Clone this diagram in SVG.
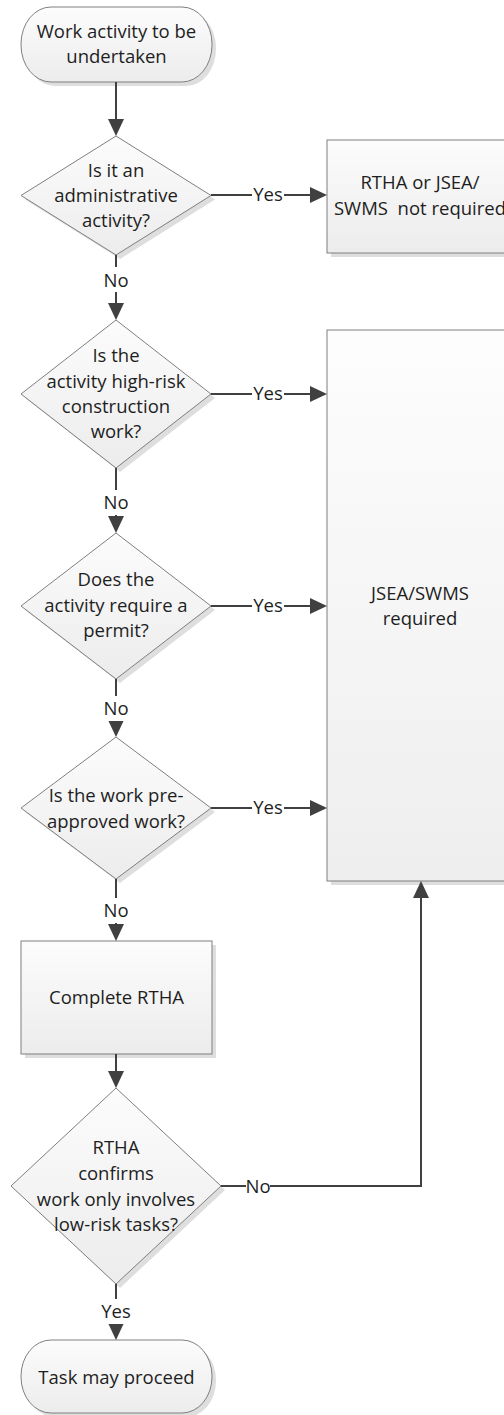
<svg xmlns="http://www.w3.org/2000/svg" width="504" height="1415" viewBox="0 0 504 1415">
<style>
.shape{stroke:#7f7f7f;stroke-width:1;fill:url(#g)}
.big{stroke:#7f7f7f;stroke-width:1;fill:url(#gb)}
.shadow{fill:#dedede;stroke:none}
.t{font-family:"Open Sans","Liberation Sans",sans-serif;font-size:18.5px;fill:#1e1e1e;text-anchor:middle}
.c{stroke:#404040;stroke-width:2;fill:none}
.a{marker-end:url(#arr)}
.lb{fill:#ffffff;stroke:none}
</style>
<defs>
<linearGradient id="g" x1="0" y1="0" x2="0" y2="1">
<stop offset="0" stop-color="#fcfcfc"/>
<stop offset="1" stop-color="#ececec"/>
</linearGradient>
<linearGradient id="gb" x1="0" y1="0" x2="0" y2="1">
<stop offset="0" stop-color="#fdfdfd"/>
<stop offset="1" stop-color="#eeeeee"/>
</linearGradient>
<marker id="arr" markerUnits="userSpaceOnUse" markerWidth="18" markerHeight="16" refX="11" refY="8" orient="auto">
<path d="M0,0 L17,8 L0,16 Z" fill="#404040"/>
</marker>
</defs>
<rect width="504" height="1415" fill="#ffffff"/>

<g id="start">
<rect class="shadow" x="25" y="11" width="191" height="75" rx="30" ry="37"/>
<rect class="shape" x="21" y="7" width="191" height="75" rx="30" ry="37"/>
<text class="t" x="116.5" y="38">Work activity to be</text>
<text class="t" x="116.5" y="63">undertaken</text>
</g>

<g id="d1">
<polygon class="shadow" points="120,140 215,199.5 120,259 25,199.5"/>
<polygon class="shape" points="116,136 211,195.5 116,255 21,195.5"/>
<text class="t" x="116" y="177">Is it an</text>
<text class="t" x="116" y="202">administrative</text>
<text class="t" x="116" y="227">activity?</text>
</g>

<g id="notrequired">
<rect class="shadow" x="331" y="144" width="187" height="113"/>
<rect class="shape" x="327" y="140" width="187" height="113"/>
<text class="t" x="420" y="189">RTHA or JSEA/</text>
<text class="t" x="420" y="215" xml:space="preserve">SWMS  not required</text>
</g>

<g id="d2">
<polygon class="shadow" points="120,324 215,398 120,472 25,398"/>
<polygon class="shape" points="116,320 211,394 116,468 21,394"/>
<text class="t" x="116" y="362">Is the</text>
<text class="t" x="116" y="387.5">activity high-risk</text>
<text class="t" x="116" y="413">construction</text>
<text class="t" x="116" y="438">work?</text>
</g>

<g id="required">
<rect class="shadow" x="331" y="334" width="187" height="551"/>
<rect class="big" x="327" y="330" width="187" height="551"/>
<text class="t" x="420" y="599.5">JSEA/SWMS</text>
<text class="t" x="420" y="624.5">required</text>
</g>

<g id="d3">
<polygon class="shadow" points="120,537 215,610 120,683 25,610"/>
<polygon class="shape" points="116,533 211,606 116,679 21,606"/>
<text class="t" x="116" y="586">Does the</text>
<text class="t" x="116" y="611.5">activity require a</text>
<text class="t" x="116" y="637">permit?</text>
</g>

<g id="d4">
<polygon class="shadow" points="120,741 215,812 120,883 25,812"/>
<polygon class="shape" points="116,737 211,808 116,879 21,808"/>
<text class="t" x="116" y="802">Is the work pre-</text>
<text class="t" x="116" y="828">approved work?</text>
</g>

<g id="complete">
<rect class="shadow" x="25" y="945" width="191" height="113"/>
<rect class="shape" x="21" y="941" width="191" height="113"/>
<text class="t" x="116.5" y="1004">Complete RTHA</text>
</g>

<g id="d5">
<polygon class="shadow" points="120,1092 225,1190 120,1288 15,1190"/>
<polygon class="shape" points="116,1088 221,1186 116,1284 11,1186"/>
<text class="t" x="116" y="1154">RTHA</text>
<text class="t" x="116" y="1180">confirms</text>
<text class="t" x="116" y="1205.5">work only involves</text>
<text class="t" x="116" y="1231">low-risk tasks?</text>
</g>

<g id="end">
<rect class="shadow" x="25" y="1344" width="191" height="73" rx="30" ry="36"/>
<rect class="shape" x="21" y="1340" width="191" height="73" rx="30" ry="36"/>
<text class="t" x="116.5" y="1384">Task may proceed</text>
</g>

<g id="connectors">
<line class="c a" x1="116" y1="82" x2="116" y2="130"/>
<line class="c a" x1="211" y1="195" x2="321" y2="195"/>
<line class="c a" x1="116" y1="255" x2="116" y2="314"/>
<line class="c a" x1="211" y1="394" x2="321" y2="394"/>
<line class="c a" x1="116" y1="468" x2="116" y2="527"/>
<line class="c a" x1="211" y1="606" x2="321" y2="606"/>
<line class="c a" x1="116" y1="679" x2="116" y2="731"/>
<line class="c a" x1="211" y1="808" x2="321" y2="808"/>
<line class="c a" x1="116" y1="879" x2="116" y2="935"/>
<line class="c a" x1="116" y1="1054" x2="116" y2="1082"/>
<polyline class="c a" points="221,1186 421,1186 421,887"/>
<line class="c a" x1="116" y1="1284" x2="116" y2="1334"/>

<rect class="lb" x="252" y="185" width="32" height="20"/>
<text class="t" x="268" y="201">Yes</text>
<rect class="lb" x="252" y="384" width="32" height="20"/>
<text class="t" x="268" y="400">Yes</text>
<rect class="lb" x="252" y="596" width="32" height="20"/>
<text class="t" x="268" y="612">Yes</text>
<rect class="lb" x="252" y="798" width="32" height="20"/>
<text class="t" x="268" y="814">Yes</text>

<rect class="lb" x="105" y="267" width="22" height="25"/>
<text class="t" x="116" y="286.5">No</text>
<rect class="lb" x="105" y="490" width="22" height="25"/>
<text class="t" x="116" y="508.5">No</text>
<rect class="lb" x="105" y="696" width="22" height="25"/>
<text class="t" x="116" y="714.5">No</text>
<rect class="lb" x="105" y="898" width="22" height="25"/>
<text class="t" x="116" y="916.5">No</text>

<rect class="lb" x="246" y="1176" width="24" height="20"/>
<text class="t" x="258" y="1192.5">No</text>
<rect class="lb" x="100" y="1299" width="32" height="25"/>
<text class="t" x="116" y="1318">Yes</text>
</g>
</svg>
